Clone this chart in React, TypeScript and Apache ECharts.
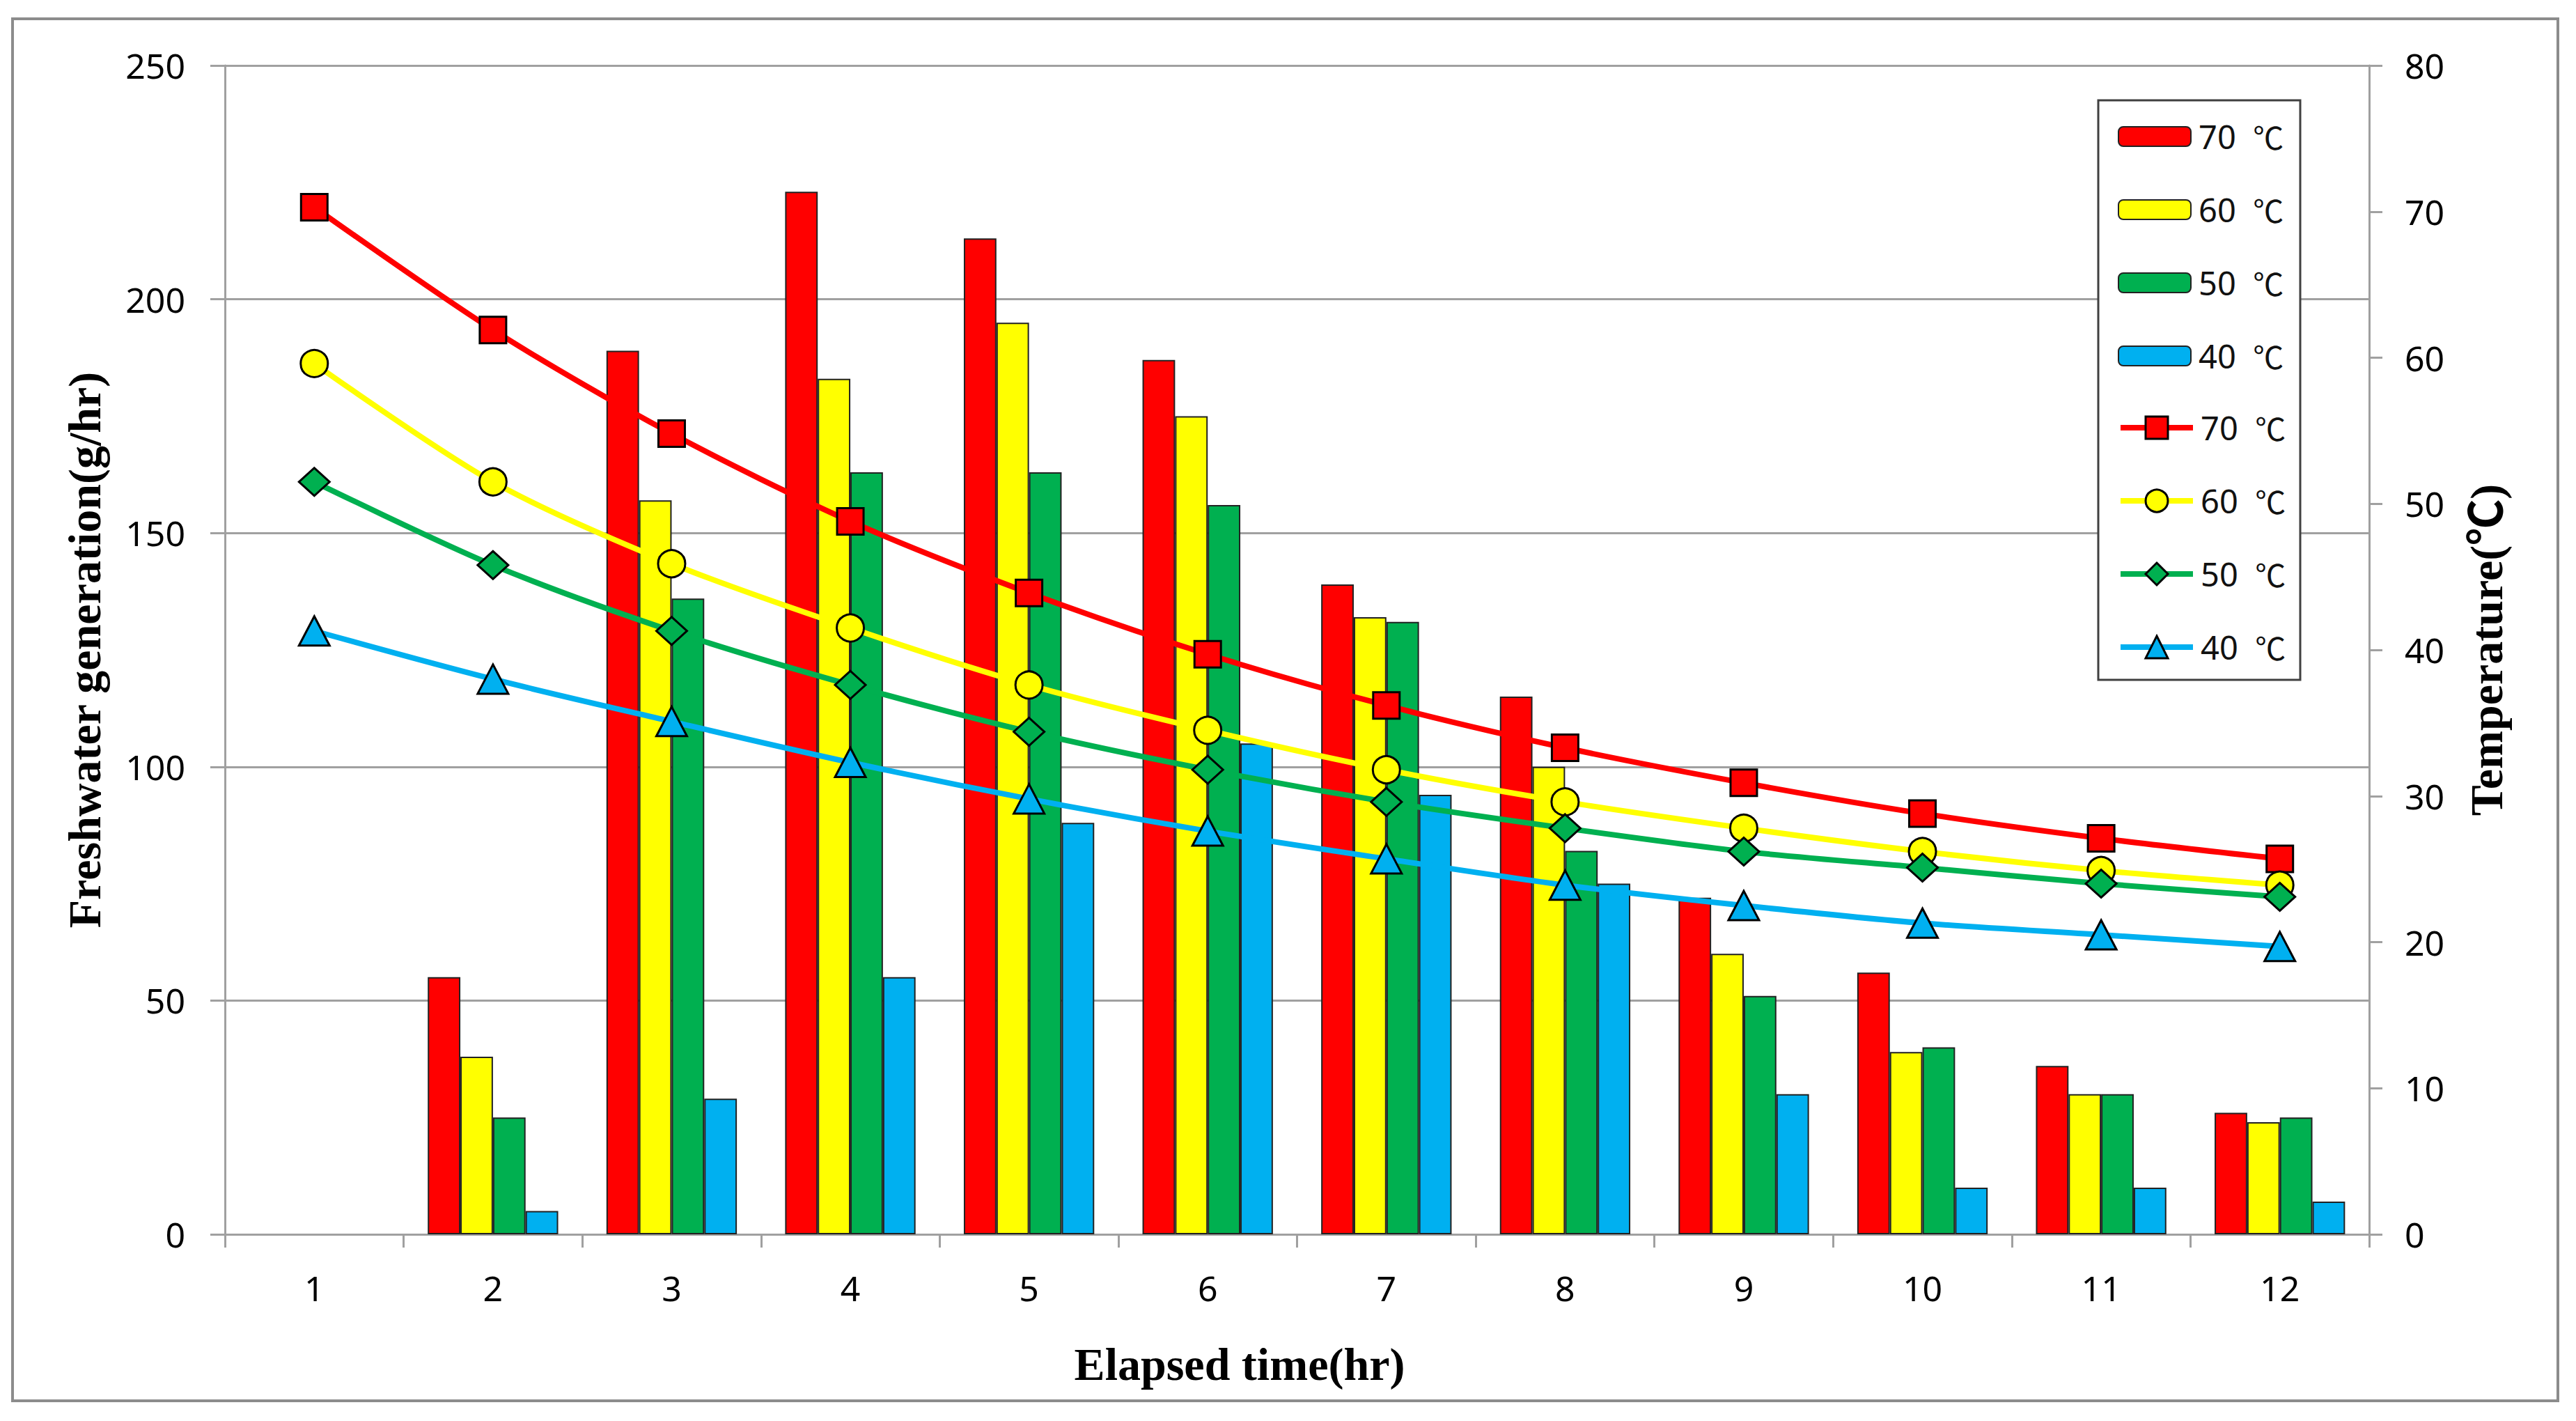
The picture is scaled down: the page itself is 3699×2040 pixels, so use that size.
import React, { useEffect, useRef } from "react";
import * as echarts from "echarts";

const hours = ["1", "2", "3", "4", "5", "6", "7", "8", "9", "10", "11", "12"];
const tempLabels = ["70", "60", "50", "40"];

// Freshwater generation (g/hr) – bars, left axis
const bar70 = [0, 55, 189, 223, 213, 187, 139, 115, 72, 56, 36, 26];
const bar60 = [0, 38, 157, 183, 195, 175, 132, 100, 60, 39, 30, 24];
const bar50 = [0, 25, 136, 163, 163, 156, 131, 82, 51, 40, 30, 25];
const bar40 = [0, 5, 29, 55, 88, 105, 94, 75, 30, 10, 10, 7];

// Temperature (℃) – lines, right axis
const temp70 = [70.3, 61.9, 54.8, 48.8, 43.9, 39.7, 36.2, 33.3, 30.9, 28.8, 27.1, 25.7];
const temp60 = [59.6, 51.5, 45.9, 41.5, 37.6, 34.5, 31.8, 29.6, 27.8, 26.2, 24.9, 23.9];
const temp50 = [51.5, 45.8, 41.3, 37.6, 34.4, 31.8, 29.6, 27.8, 26.2, 25.1, 24.0, 23.1];
const temp40 = [41.3, 38.0, 35.1, 32.3, 29.8, 27.6, 25.7, 23.9, 22.5, 21.3, 20.5, 19.7];

const colors = ["#FF0000", "#FFFF00", "#00B050", "#00B0F0"];
const symbols = ["rect", "circle", "diamond", "triangle"];
const symbolSizes: any[] = [38, 39, [44, 40], [44, 42]];

const SANS = "'Noto Sans', 'Noto Sans CJK SC', sans-serif";
const CJK = "'Noto Sans CJK SC', 'Noto Sans', sans-serif";
const SERIF = "'Liberation Serif', 'Noto Sans CJK SC', serif";
const GRID_GRAY = "#A0A0A0";

export default function App() {
  const ref = useRef<HTMLDivElement>(null);

  useEffect(() => {
    document.body.style.margin = "0";
    const chart = echarts.init(ref.current!, null, { renderer: "svg" });

    const barSets = [bar70, bar60, bar50, bar40];
    const lineSets = [temp70, temp60, temp50, temp40];

    const barSeries = barSets.map((d, i) => ({
      name: "bar-" + tempLabels[i],
      type: "bar",
      yAxisIndex: 0,
      barGap: "0%",
      barCategoryGap: "27%",
      data: d.map((v) => (v === 0 ? null : v)),
      itemStyle: { color: colors[i], borderColor: "#222", borderWidth: 2 },
      z: 2,
    }));

    const lineSeries = lineSets.map((d, i) => ({
      name: "line-" + tempLabels[i],
      type: "line",
      yAxisIndex: 1,
      smooth: 0.3,
      data: d,
      symbol: symbols[i],
      symbolSize: symbolSizes[i],
      showAllSymbol: true,
      lineStyle: { color: colors[i], width: 8 },
      itemStyle: { color: colors[i], borderColor: "#000", borderWidth: 3 },
      z: 3,
    }));

    const legendText = {
      fontSize: 47,
      fontFamily: SANS,
      color: "#111",
      padding: [0, 0, 0, 6],
      rich: {
        n: { fontSize: 47, fontFamily: SANS, color: "#111" },
        c: { fontSize: 44, fontFamily: CJK, color: "#111" },
      },
    };
    const fmt = (name: string) => "{n|" + name.split("-")[1] + "  }{c|℃}";

    const option: any = {
      animation: false,
      backgroundColor: "#fff",
      grid: { left: 323, right: 297, top: 94, bottom: 268, containLabel: false },
      legend: [
        {
          orient: "vertical",
          left: 3041,
          top: 172,
          itemWidth: 104,
          itemHeight: 28,
          itemGap: 57,
          padding: 0,
          itemStyle: { borderWidth: 2 },
          data: barSeries.map((s) => s.name),
          formatter: fmt,
          textStyle: { ...legendText, lineHeight: 48 },
        },
        {
          orient: "vertical",
          left: 3041,
          top: 590,
          itemWidth: 104,
          itemHeight: 40,
          itemGap: 57,
          padding: 0,
          lineStyle: { width: 8 },
          itemStyle: { borderWidth: 3 },
          data: lineSeries.map((s) => s.name),
          formatter: fmt,
          textStyle: { ...legendText, lineHeight: 48 },
        },
      ],
      xAxis: {
        type: "category",
        data: hours,
        boundaryGap: true,
        axisLine: { show: true, lineStyle: { color: GRID_GRAY, width: 3 } },
        axisTick: { show: true, length: 19, alignWithLabel: false, lineStyle: { color: GRID_GRAY, width: 3 } },
        axisLabel: { margin: 52, fontSize: 50, fontFamily: SANS, color: "#000" },
        splitLine: { show: false },
      },
      yAxis: [
        {
          type: "value",
          min: 0,
          max: 250,
          interval: 50,
          position: "left",
          axisLine: { show: true, lineStyle: { color: GRID_GRAY, width: 3 } },
          axisTick: { show: true, length: 21, lineStyle: { color: GRID_GRAY, width: 3 } },
          axisLabel: { margin: 57, fontSize: 50, fontFamily: SANS, color: "#000" },
          splitLine: { show: true, lineStyle: { color: GRID_GRAY, width: 3 } },
        },
        {
          type: "value",
          min: 0,
          max: 80,
          interval: 10,
          position: "right",
          axisLine: { show: true, lineStyle: { color: GRID_GRAY, width: 3 } },
          axisTick: { show: true, length: 19, lineStyle: { color: GRID_GRAY, width: 3 } },
          axisLabel: { margin: 51, fontSize: 50, fontFamily: SANS, color: "#000" },
          splitLine: { show: false },
        },
      ],
      graphic: [
        {
          type: "rect",
          shape: { x: 18, y: 27, width: 3655, height: 1984 },
          style: { fill: "none", stroke: "#8c8c8c", lineWidth: 4 },
          silent: true,
          z: -1,
        },
        {
          type: "rect",
          shape: { x: 3013, y: 144, width: 290, height: 832 },
          style: { fill: "#fff", stroke: "#404040", lineWidth: 3 },
          silent: true,
          z: 4,
        },
        {
          type: "text",
          x: 121,
          y: 933,
          rotation: Math.PI / 2,
          style: {
            text: "Freshwater generation(g/hr)",
            font: "bold 66px " + SERIF,
            fill: "#000",
            textAlign: "center",
            textVerticalAlign: "middle",
          },
        },
        {
          type: "text",
          x: 3570,
          y: 933,
          rotation: Math.PI / 2,
          style: {
            text: "Temperature(℃)",
            font: "bold 66px " + SERIF,
            fill: "#000",
            textAlign: "center",
            textVerticalAlign: "middle",
          },
        },
        {
          type: "text",
          x: 1780,
          y: 1958,
          style: {
            text: "Elapsed time(hr)",
            font: "bold 66px " + SERIF,
            fill: "#000",
            textAlign: "center",
            textVerticalAlign: "middle",
          },
        },
      ],
      series: [...barSeries, ...lineSeries],
    };

    chart.setOption(option);
    return () => chart.dispose();
  }, []);

  return (
    <div
      ref={ref}
      style={{ position: "absolute", left: 0, top: 0, width: 3699, height: 2040, background: "#fff" }}
    />
  );
}
